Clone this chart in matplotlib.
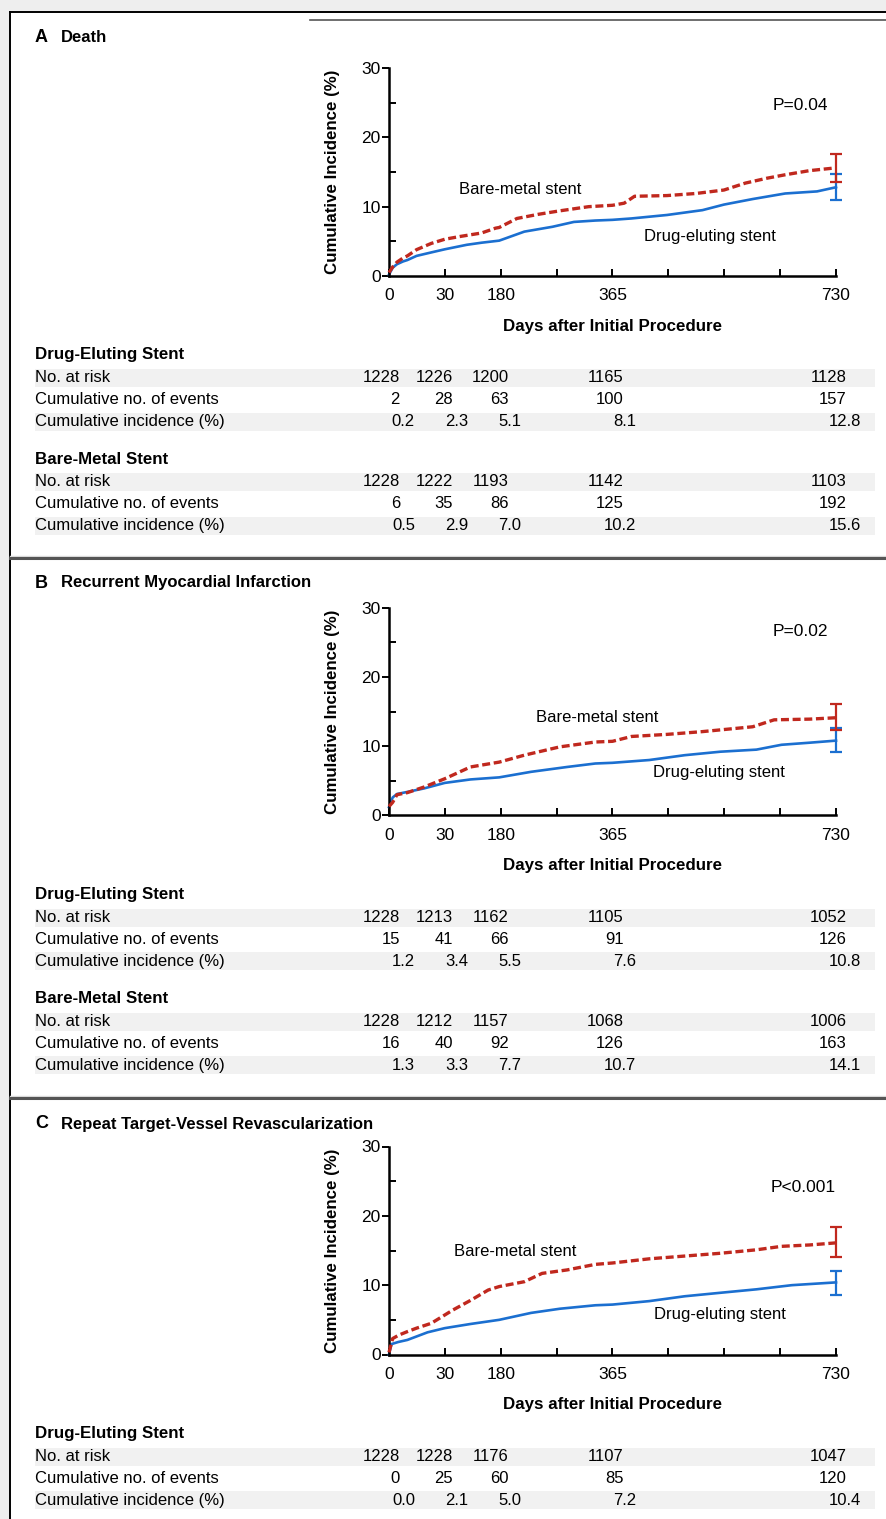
import numpy as np
import matplotlib.pyplot as plt
from matplotlib.patches import Rectangle
from matplotlib.lines import Line2D

W, H = 887, 1519
plt.rcParams['font.family'] = ['Liberation Sans', 'DejaVu Sans']

RED = '#c0281e'
BLUE = '#1b6fd0'

# ---- panel A: death ----
death_des_days = [0, 6, 13, 23, 30, 45, 69, 91, 127, 151, 180, 221, 267, 302, 337, 365,
                  396, 454, 512, 547, 594, 647, 699, 730]
death_des_pct = [0.2, 1.2, 1.7, 2.1, 2.3, 2.9, 3.4, 3.85, 4.5, 4.8, 5.1, 6.4, 7.1, 7.8, 8.0, 8.1,
                 8.3, 8.8, 9.5, 10.3, 11.1, 11.9, 12.2, 12.8]
death_bms_days = [0, 6, 13, 23, 30, 45, 69, 91, 116, 151, 174, 180, 209, 244, 279, 326, 365,
                  384, 401, 454, 501, 547, 582, 617, 647, 687, 730]
death_bms_pct = [0.5, 1.3, 2.0, 2.6, 2.9, 3.8, 4.7, 5.3, 5.7, 6.2, 6.9, 7.0, 8.3, 8.9, 9.4, 10.0, 10.2,
                 10.5, 11.5, 11.6, 11.9, 12.4, 13.4, 14.1, 14.6, 15.2, 15.6]
death_des_ci = (10.9, 14.7)
death_bms_ci = (13.6, 17.6)

# ---- panel B: recurrent MI ----
mi_des_days = [0, 6, 13, 30, 57, 91, 133, 180, 232, 291, 337, 365, 425, 483, 541, 600, 641, 687, 730]
mi_des_pct = [1.2, 2.6, 3.1, 3.4, 3.9, 4.7, 5.2, 5.5, 6.3, 7.0, 7.5, 7.6, 8.0, 8.7, 9.2, 9.5, 10.2, 10.5, 10.8]
mi_bms_days = [0, 6, 13, 30, 57, 91, 133, 180, 221, 279, 337, 365, 396, 454, 512, 594, 629, 687, 730]
mi_bms_pct = [1.3, 1.9, 3.0, 3.3, 4.1, 5.3, 7.0, 7.7, 8.7, 9.9, 10.6, 10.7, 11.4, 11.7, 12.1, 12.8, 13.8, 13.9, 14.1]
mi_des_ci = (9.1, 12.6)
mi_bms_ci = (12.4, 16.1)

# ---- panel C: target-vessel revascularization ----
tvr_des_days = [0, 4, 15, 30, 63, 91, 133, 180, 232, 279, 337, 365, 425, 483, 541, 600, 658, 730]
tvr_des_pct = [0.0, 1.5, 1.8, 2.1, 3.2, 3.8, 4.4, 5.0, 6.0, 6.6, 7.1, 7.2, 7.7, 8.4, 8.9, 9.4, 10.0, 10.4]
tvr_bms_days = [0, 6, 16, 30, 45, 69, 104, 133, 162, 180, 221, 250, 291, 337, 365, 425, 483, 541,
                600, 641, 687, 730]
tvr_bms_pct = [0.3, 2.3, 2.8, 3.3, 3.8, 4.5, 6.4, 7.8, 9.3, 9.8, 10.5, 11.7, 12.2, 13.0, 13.2, 13.8, 14.2,
               14.6, 15.1, 15.6, 15.8, 16.1]
tvr_des_ci = (8.6, 12.1)
tvr_bms_ci = (14.0, 18.4)

# numbers at risk tables
death_des_risk = [1228, 1226, 1200, 1165, 1128]
death_des_events = [2, 28, 63, 100, 157]
death_des_inc = [0.2, 2.3, 5.1, 8.1, 12.8]
death_bms_risk = [1228, 1222, 1193, 1142, 1103]
death_bms_events = [6, 35, 86, 125, 192]
death_bms_inc = [0.5, 2.9, 7.0, 10.2, 15.6]

mi_des_risk = [1228, 1213, 1162, 1105, 1052]
mi_des_events = [15, 41, 66, 91, 126]
mi_des_inc = [1.2, 3.4, 5.5, 7.6, 10.8]
mi_bms_risk = [1228, 1212, 1157, 1068, 1006]
mi_bms_events = [16, 40, 92, 126, 163]
mi_bms_inc = [1.3, 3.3, 7.7, 10.7, 14.1]

tvr_des_risk = [1228, 1228, 1176, 1107, 1047]
tvr_des_events = [0, 25, 60, 85, 120]
tvr_des_inc = [0.0, 2.1, 5.0, 7.2, 10.4]

row_names = ['No. at risk', 'Cumulative no. of events', 'Cumulative incidence (%)']
x_tick_labels = ['0', '30', '180', '', '365', '', '', '', '730']

panels = [
    dict(letter='A', title='Death', p='P=0.04',
         des=(death_des_days, death_des_pct, death_des_ci), bms=(death_bms_days, death_bms_pct, death_bms_ci),
         tables=[('Drug-Eluting Stent', death_des_risk, death_des_events, death_des_inc),
                 ('Bare-Metal Stent', death_bms_risk, death_bms_events, death_bms_inc)],
         off=0, title_y=38, bms_lab=(520, 189), des_lab=(710, 236), p_xy=(800, 105)),
    dict(letter='B', title='Recurrent Myocardial Infarction', p='P=0.02',
         des=(mi_des_days, mi_des_pct, mi_des_ci), bms=(mi_bms_days, mi_bms_pct, mi_bms_ci),
         tables=[('Drug-Eluting Stent', mi_des_risk, mi_des_events, mi_des_inc),
                 ('Bare-Metal Stent', mi_bms_risk, mi_bms_events, mi_bms_inc)],
         off=539.5, title_y=583, bms_lab=(597, 718), des_lab=(719, 772), p_xy=(800, 632)),
    dict(letter='C', title='Repeat Target-Vessel Revascularization', p='P<0.001',
         des=(tvr_des_days, tvr_des_pct, tvr_des_ci), bms=(tvr_bms_days, tvr_bms_pct, tvr_bms_ci),
         tables=[('Drug-Eluting Stent', tvr_des_risk, tvr_des_events, tvr_des_inc)],
         off=1078.5, title_y=1124, bms_lab=(515, 1252), des_lab=(720, 1315), p_xy=(803, 1187)),
]

fig = plt.figure(figsize=(W / 100, H / 100), dpi=100)
fig.patch.set_facecolor('white')


def ftext(x, y, s, **kw):
    return fig.text(x / W, 1 - y / H, s, **kw)


def fline(x0, y0, x1, y1, **kw):
    fig.add_artist(Line2D([x0 / W, x1 / W], [1 - y0 / H, 1 - y1 / H], transform=fig.transFigure, **kw))


# grey margin, frame and panel separators
fig.add_artist(Rectangle((0, 0), 10 / W, 1, transform=fig.transFigure, color='#eeeeee', lw=0))
fig.add_artist(Rectangle((0, 1 - 12 / H), 1, 12 / H, transform=fig.transFigure, color='#eeeeee', lw=0))
fline(10, 12, 10, H, color='black', lw=1.4)
fline(10, 12, W, 12, color='black', lw=1.4)
fline(310, 20, W, 20, color='#555555', lw=1.2)
for ysep in (558, 1098):
    fline(10, ysep - 2, W, ysep - 2, color='#dddddd', lw=1.0)
    fline(10, ysep, W, ysep, color='#555555', lw=2.2)

col_right = [400, 453, 509, 624, 847]
inc_right = [415, 468, 521, 636, 861]
ticks = np.arange(9) * 730 / 8

for pan in panels:
    off = pan['off']
    ax = fig.add_axes([389 / W, 1 - (276 + off) / H, 447 / W, 208 / H])
    ax.set_facecolor('none')
    for key, col, style, lw in (('des', BLUE, '-', 1.9), ('bms', RED, (0, (2.4, 1.1)), 2.4)):
        days, pct, ci = pan[key]
        ax.plot(days, pct, color=col, ls=style, lw=lw, clip_on=False, zorder=3 if key == 'bms' else 2)
        end = pct[-1]
        ax.errorbar([days[-1]], [end], yerr=[[end - ci[0]], [ci[1] - end]], color=col, lw=1.6,
                    capsize=4, capthick=1.6, clip_on=False, zorder=4)
    ax.set_xlim(0, 730)
    ax.set_ylim(0, 30)
    ax.set_xticks(ticks)
    ax.set_xticklabels(x_tick_labels)
    ax.set_yticks([0, 10, 20, 30])
    ax.set_yticks([5, 15, 25], minor=True)
    ax.tick_params(axis='x', direction='in', length=5, width=1.4, labelsize=12.5, pad=9)
    ax.tick_params(axis='y', which='major', direction='out', length=5, width=1.4, labelsize=12.5, pad=1)
    ax.tick_params(axis='y', which='minor', direction='in', length=5, width=1.4)
    for s in ('top', 'right'):
        ax.spines[s].set_visible(False)
    for s in ('left', 'bottom'):
        ax.spines[s].set_linewidth(1.8)

    ftext(333, 172 + off, 'Cumulative Incidence (%)', rotation=90, ha='center', va='center',
          fontsize=12.2, fontweight='bold')
    ftext(613, 326 + off, 'Days after Initial Procedure', ha='center', va='center',
          fontsize=12.2, fontweight='bold')
    ftext(*pan['p_xy'], pan['p'], ha='center', va='center', fontsize=12.5)
    ftext(*pan['bms_lab'], 'Bare-metal stent', ha='center', va='center', fontsize=12)
    ftext(*pan['des_lab'], 'Drug-eluting stent', ha='center', va='center', fontsize=12)

    ftext(35, pan['title_y'], pan['letter'], ha='left', va='center', fontsize=13, fontweight='bold')
    ftext(61, pan['title_y'], pan['title'], ha='left', va='center', fontsize=12, fontweight='bold')

    # tables
    for t, (group, risk, events, inc) in enumerate(pan['tables']):
        base = 355 + off + t * 104
        ftext(35, base, group, ha='left', va='center', fontsize=12.2, fontweight='bold')
        rows = [[str(v) for v in risk], [str(v) for v in events], ['%.1f' % v for v in inc]]
        for r, (name, vals) in enumerate(zip(row_names, rows)):
            ry = base + 23 + r * 21.8
            if r != 1:
                fig.add_artist(Rectangle((35 / W, 1 - (ry + 9) / H), 840 / W, 18 / H,
                                         transform=fig.transFigure, color='#f1f1f1', lw=0, zorder=0))
            ftext(35, ry, name, ha='left', va='center', fontsize=12)
            xs = inc_right if r == 2 else col_right
            for xv, v in zip(xs, vals):
                ftext(xv, ry, v, ha='right', va='center', fontsize=12)

fig.savefig('out.png', dpi=100)
